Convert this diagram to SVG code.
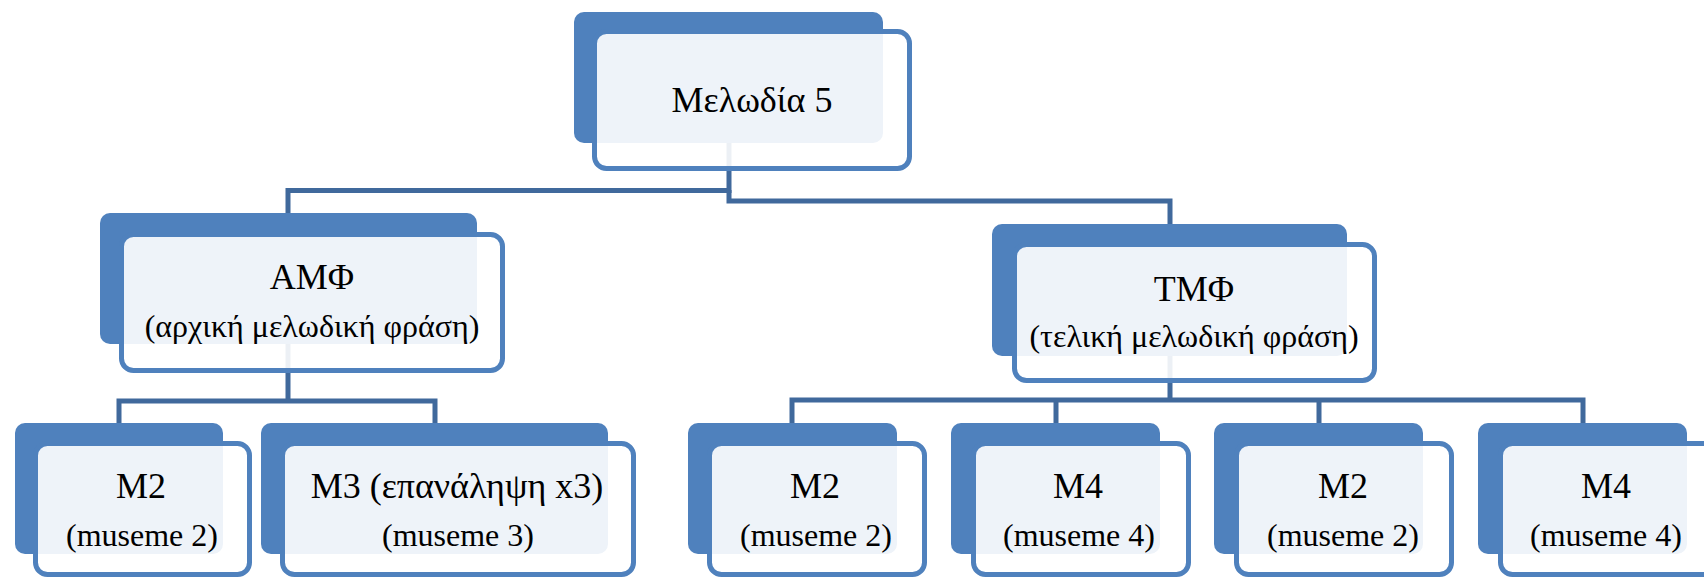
<svg xmlns="http://www.w3.org/2000/svg" width="1704" height="578" viewBox="0 0 1704 578">
  <defs>
    <style>
      .back { fill: #4F81BD; }
      .front { fill: #FFFFFF; fill-opacity: 0.9; stroke: #4F81BD; stroke-width: 5; }
      .link { fill: none; stroke: #40699C; stroke-width: 5; stroke-linejoin: miter; }
      text { fill: #000000; text-anchor: middle; }
      .big { font-size: 36px; }
      .small { font-size: 32px; }
    </style>
  </defs>
  <rect x="0" y="0" width="1704" height="578" fill="#FFFFFF"/>

  <!-- connectors -->
  <g id="connectors">
    <path class="link" d="M729 143 V190.5 H288 V213"/>
    <path class="link" d="M729 190 V201 H1170 V224"/>
    <path class="link" d="M288 344 V401 H119 V423 M288 401 H435 V423"/>
    <path class="link" d="M1170 356 V400 H792 V423 M792 400 H1583 V423 M1056 400 V423 M1319 400 V423"/>
  </g>

  <g font-family="'Liberation Serif', 'DejaVu Serif', serif">
  <!-- root -->
  <g id="node-root">
    <rect class="back" x="574" y="12" width="309" height="131" rx="10"/>
    <rect class="front" x="594.5" y="31.5" width="315" height="137" rx="12"/>
    <text class="big" x="752" y="112">Μελωδία 5</text>
  </g>

  <!-- second level -->
  <g id="node-amf">
    <rect class="back" x="100" y="213" width="377" height="131" rx="10"/>
    <rect class="front" x="121.5" y="234.5" width="381" height="136" rx="12"/>
    <text class="big" x="312" y="289">ΑΜΦ</text>
    <text class="small" x="312" y="337">(αρχική μελωδική φράση)</text>
  </g>
  <g id="node-tmf">
    <rect class="back" x="992" y="224" width="355" height="132" rx="10"/>
    <rect class="front" x="1014.5" y="244.5" width="360" height="136" rx="12"/>
    <text class="big" x="1194" y="301">ΤΜΦ</text>
    <text class="small" x="1194" y="347">(τελική μελωδική φράση)</text>
  </g>

  <!-- third level -->
  <g id="node-m2-a">
    <rect class="back" x="15" y="423" width="208" height="131" rx="10"/>
    <rect class="front" x="35.5" y="443.5" width="214" height="131" rx="12"/>
    <text class="big" x="141" y="498">M2</text>
    <text class="small" x="142" y="546">(museme 2)</text>
  </g>
  <g id="node-m3">
    <rect class="back" x="261" y="423" width="347" height="131" rx="10"/>
    <rect class="front" x="282.5" y="443.5" width="351" height="131" rx="12"/>
    <text class="big" x="457" y="498">M3 (επανάληψη x3)</text>
    <text class="small" x="458" y="546">(museme 3)</text>
  </g>
  <g id="node-m2-b">
    <rect class="back" x="688" y="423" width="209" height="131" rx="10"/>
    <rect class="front" x="709.5" y="443.5" width="215" height="131" rx="12"/>
    <text class="big" x="815" y="498">M2</text>
    <text class="small" x="816" y="546">(museme 2)</text>
  </g>
  <g id="node-m4-a">
    <rect class="back" x="951" y="423" width="209" height="131" rx="10"/>
    <rect class="front" x="973.5" y="443.5" width="215" height="131" rx="12"/>
    <text class="big" x="1078" y="498">M4</text>
    <text class="small" x="1079" y="546">(museme 4)</text>
  </g>
  <g id="node-m2-c">
    <rect class="back" x="1214" y="423" width="209" height="131" rx="10"/>
    <rect class="front" x="1236.5" y="443.5" width="215" height="131" rx="12"/>
    <text class="big" x="1343" y="498">M2</text>
    <text class="small" x="1343" y="546">(museme 2)</text>
  </g>
  <g id="node-m4-b">
    <rect class="back" x="1478" y="423" width="209" height="131" rx="10"/>
    <rect class="front" x="1500.5" y="443.5" width="215" height="131" rx="12"/>
    <text class="big" x="1606" y="498">M4</text>
    <text class="small" x="1606" y="546">(museme 4)</text>
  </g>
  </g>
</svg>
